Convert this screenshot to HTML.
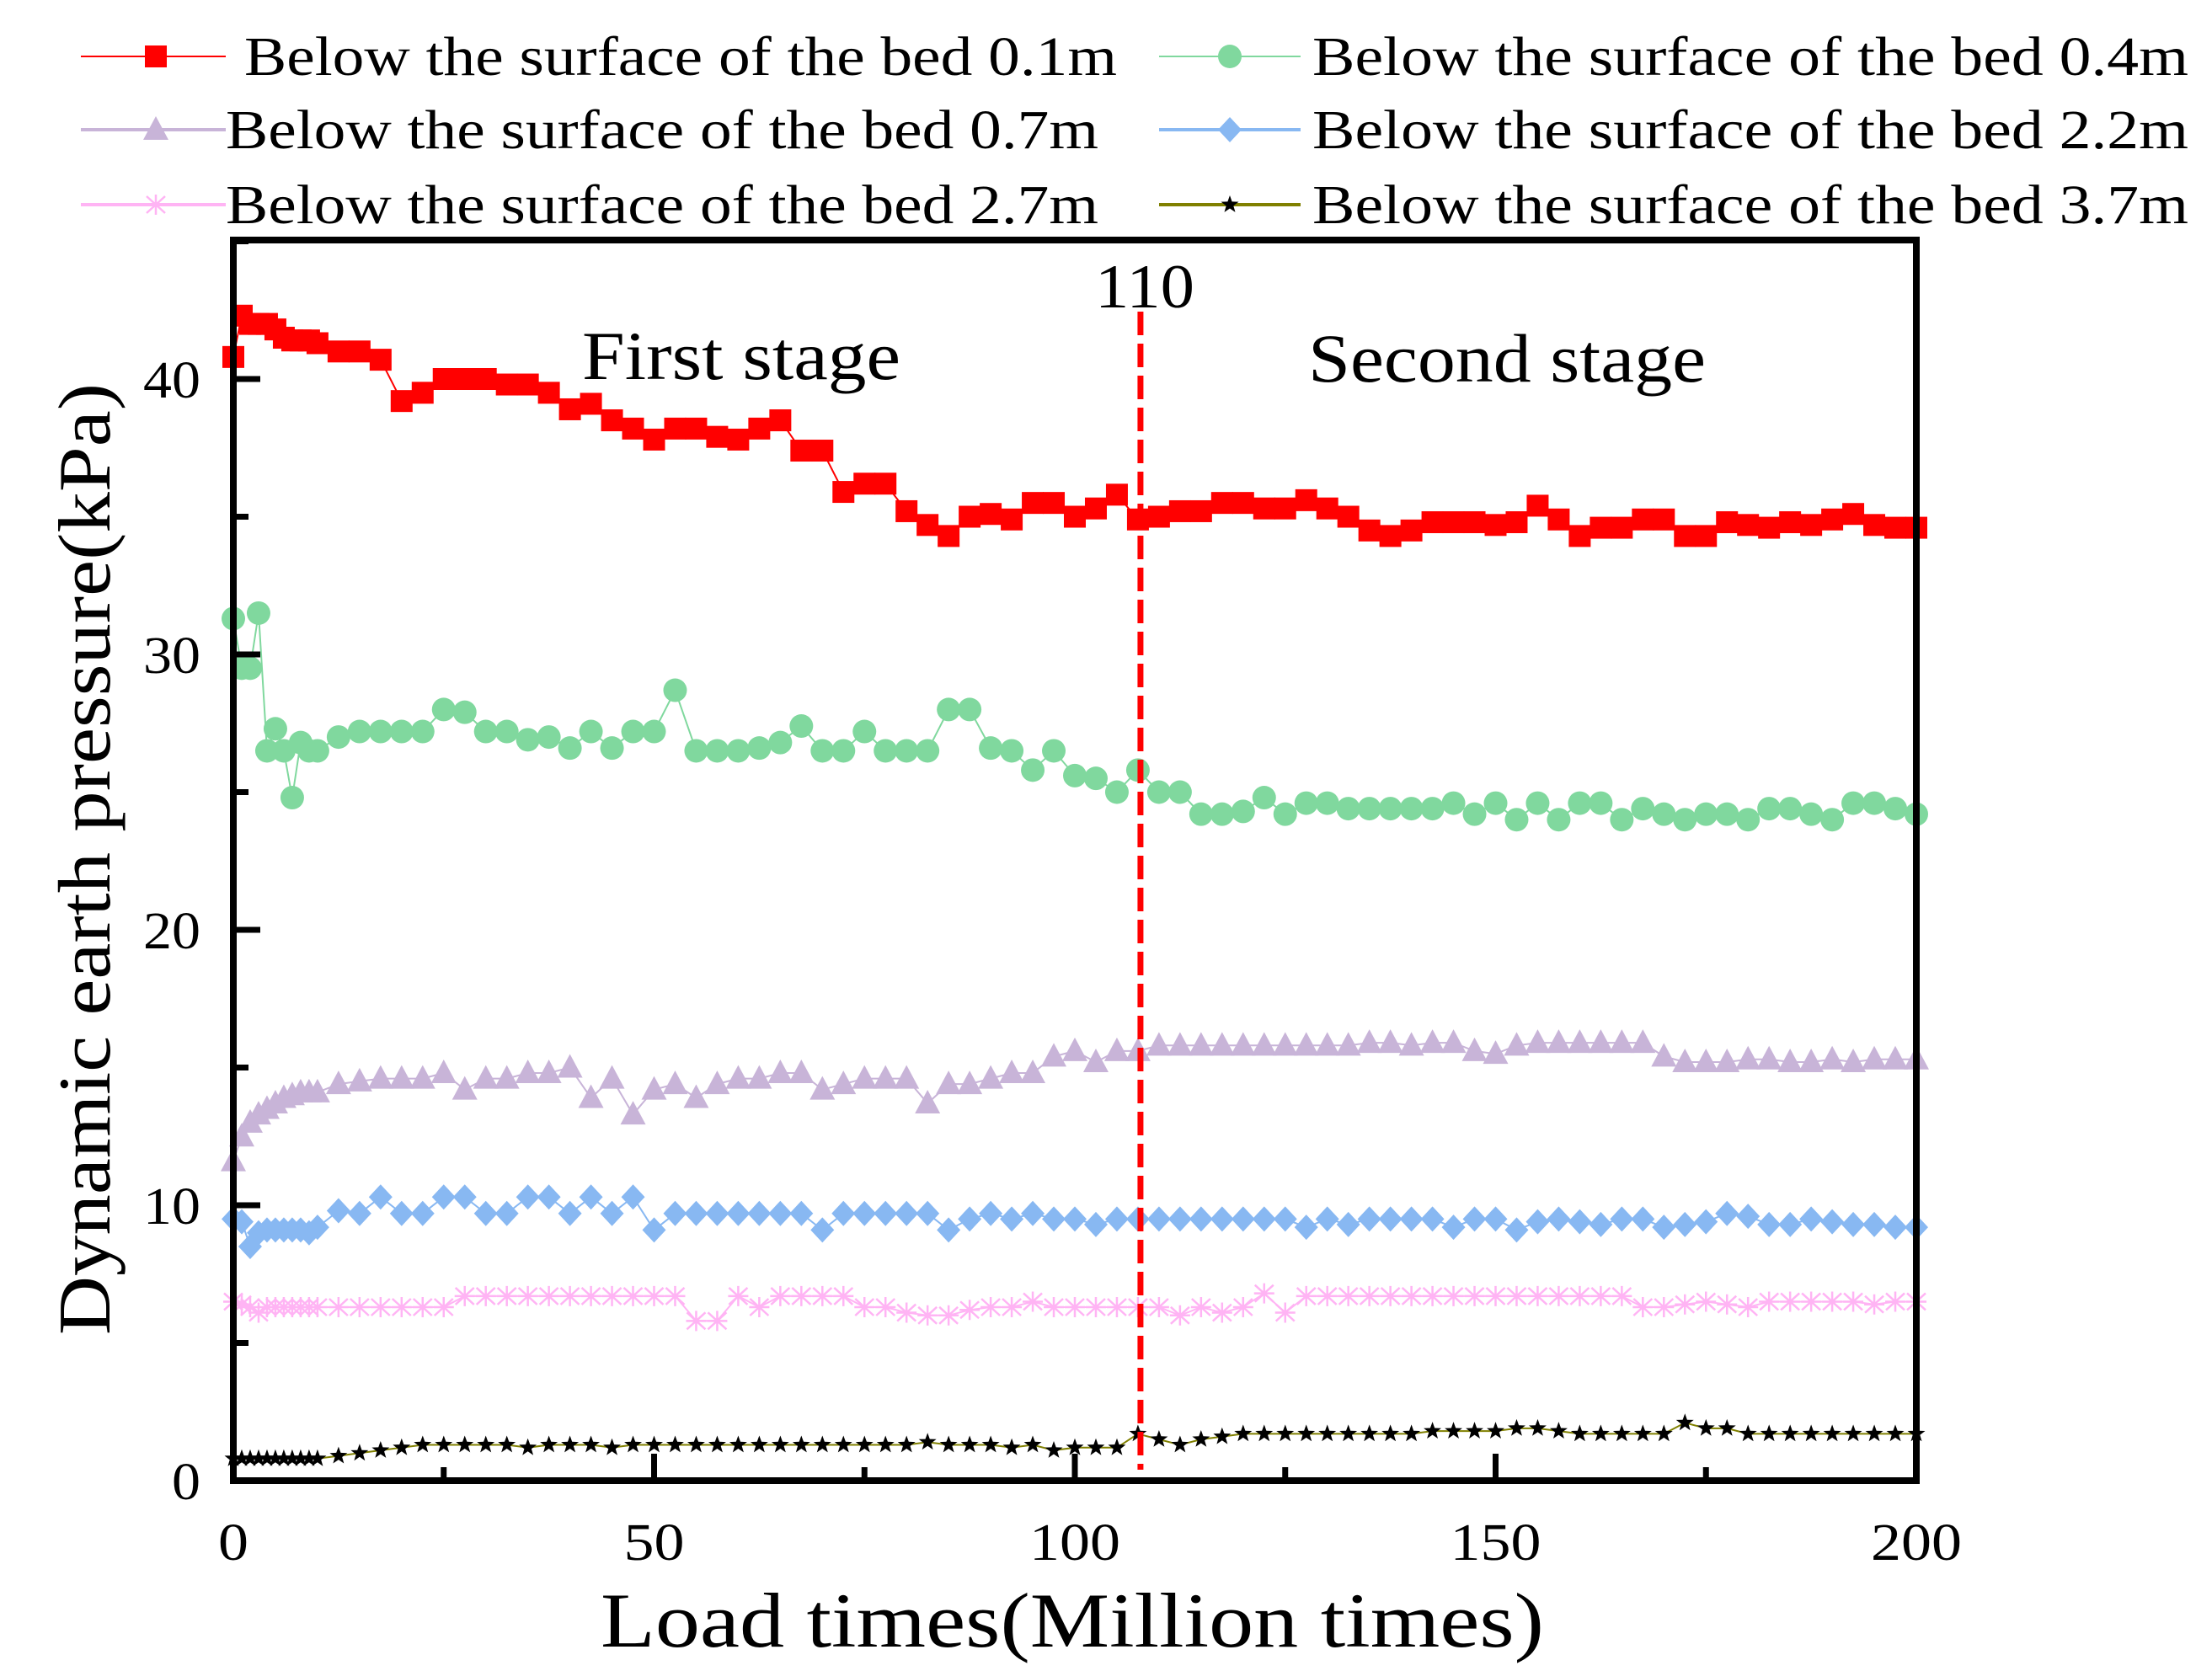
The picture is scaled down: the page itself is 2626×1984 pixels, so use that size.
<!DOCTYPE html>
<html><head><meta charset="utf-8"><style>
html,body{margin:0;padding:0;background:#fff}
svg{display:block}
text{font-family:"Liberation Serif",serif;fill:#000}
</style></head><body>
<svg id="chart" width="2626" height="1984" viewBox="0 0 2626 1984" xmlns="http://www.w3.org/2000/svg">
<g id="legend"></g>
<g id="series"></g>
<g id="axes"></g>
<text transform="translate(130,1020) rotate(-90)" text-anchor="middle" font-size="88" textLength="1130" lengthAdjust="spacingAndGlyphs">Dynamic earth pressure(kPa)</text>
<text x="713" y="1955" font-size="92" textLength="1120" lengthAdjust="spacingAndGlyphs">Load times(Million times)</text>
<text x="691" y="450" font-size="82" textLength="378" lengthAdjust="spacingAndGlyphs">First stage</text>
<text x="1553" y="453" font-size="82" textLength="472" lengthAdjust="spacingAndGlyphs">Second stage</text>
<text x="1359" y="365" text-anchor="middle" font-size="74" textLength="118" lengthAdjust="spacingAndGlyphs">110</text>
</svg>
<script>
const xs=[0,1,2,3,4,5,6,7,8,9,10,12.5,15,17.5,20,22.5,25,27.5,30,32.5,35,37.5,40,42.5,45,47.5,50,52.5,55,57.5,60,62.5,65,67.5,70,72.5,75,77.5,80,82.5,85,87.5,90,92.5,95,97.5,100,102.5,105,107.5,110,112.5,115,117.5,120,122.5,125,127.5,130,132.5,135,137.5,140,142.5,145,147.5,150,152.5,155,157.5,160,162.5,165,167.5,170,172.5,175,177.5,180,182.5,185,187.5,190,192.5,195,197.5,200];
const s01=[40.8,42.3,42,42,42,41.8,41.5,41.4,41.4,41.4,41.3,41,41,40.7,39.2,39.5,40,40,40,39.8,39.8,39.5,38.9,39.1,38.5,38.2,37.8,38.2,38.2,37.9,37.8,38.2,38.5,37.4,37.4,35.9,36.2,36.2,35.2,34.7,34.3,35,35.1,34.9,35.5,35.5,35,35.3,35.8,34.9,35,35.2,35.2,35.5,35.5,35.3,35.3,35.6,35.3,35,34.5,34.3,34.5,34.8,34.8,34.8,34.7,34.8,35.4,34.9,34.3,34.6,34.6,34.9,34.9,34.3,34.3,34.8,34.7,34.6,34.8,34.7,34.9,35.1,34.7,34.6,34.6];
const s04=[31.3,29.5,29.5,31.5,26.5,27.3,26.5,24.8,26.8,26.5,26.5,27,27.2,27.2,27.2,27.2,28,27.9,27.2,27.2,26.9,27,26.6,27.2,26.6,27.2,27.2,28.7,26.5,26.5,26.5,26.6,26.8,27.4,26.5,26.5,27.2,26.5,26.5,26.5,28,28,26.6,26.5,25.8,26.5,25.6,25.5,25,25.8,25,25,24.2,24.2,24.3,24.8,24.2,24.6,24.6,24.4,24.4,24.4,24.4,24.4,24.6,24.2,24.6,24,24.6,24,24.6,24.6,24,24.4,24.2,24,24.2,24.2,24,24.4,24.4,24.2,24,24.6,24.6,24.4,24.2];
const s07=[11.6,12.5,13,13.3,13.5,13.7,13.9,14,14.1,14.1,14.1,14.4,14.5,14.6,14.6,14.6,14.8,14.2,14.6,14.6,14.8,14.8,15,13.9,14.6,13.3,14.2,14.4,13.9,14.4,14.6,14.6,14.8,14.8,14.2,14.4,14.6,14.6,14.6,13.7,14.4,14.4,14.6,14.8,14.8,15.4,15.6,15.2,15.6,15.6,15.8,15.8,15.8,15.8,15.8,15.8,15.8,15.8,15.8,15.8,15.9,15.9,15.8,15.9,15.9,15.6,15.5,15.8,15.9,15.9,15.9,15.9,15.9,15.9,15.4,15.2,15.2,15.2,15.3,15.3,15.2,15.2,15.3,15.2,15.3,15.3,15.3];
const s22=[9.5,9.4,8.5,9,9.1,9.1,9.1,9.1,9.1,9,9.2,9.8,9.7,10.3,9.7,9.7,10.3,10.3,9.7,9.7,10.3,10.3,9.7,10.3,9.7,10.3,9.1,9.7,9.7,9.7,9.7,9.7,9.7,9.7,9.1,9.7,9.7,9.7,9.7,9.7,9.1,9.5,9.7,9.5,9.7,9.5,9.5,9.3,9.5,9.5,9.5,9.5,9.5,9.5,9.5,9.5,9.5,9.2,9.5,9.3,9.5,9.5,9.5,9.5,9.2,9.5,9.5,9.1,9.4,9.5,9.4,9.3,9.5,9.5,9.2,9.3,9.4,9.7,9.6,9.3,9.3,9.5,9.4,9.3,9.3,9.2,9.2];
const s27=[6.5,6.4,6.3,6.1,6.3,6.3,6.3,6.3,6.3,6.3,6.3,6.3,6.3,6.3,6.3,6.3,6.3,6.7,6.7,6.7,6.7,6.7,6.7,6.7,6.7,6.7,6.7,6.7,5.8,5.8,6.7,6.3,6.7,6.7,6.7,6.7,6.3,6.3,6.1,6,6,6.2,6.3,6.3,6.5,6.3,6.3,6.3,6.3,6.3,6.3,6,6.3,6.1,6.3,6.8,6.1,6.7,6.7,6.7,6.7,6.7,6.7,6.7,6.7,6.7,6.7,6.7,6.7,6.7,6.7,6.7,6.7,6.3,6.3,6.4,6.5,6.4,6.3,6.5,6.5,6.5,6.5,6.5,6.4,6.5,6.5];
const s37=[0.8,0.8,0.8,0.8,0.8,0.8,0.8,0.8,0.8,0.8,0.8,0.9,1,1.1,1.2,1.3,1.3,1.3,1.3,1.3,1.2,1.3,1.3,1.3,1.2,1.3,1.3,1.3,1.3,1.3,1.3,1.3,1.3,1.3,1.3,1.3,1.3,1.3,1.3,1.4,1.3,1.3,1.3,1.2,1.3,1.1,1.2,1.2,1.2,1.7,1.5,1.3,1.5,1.6,1.7,1.7,1.7,1.7,1.7,1.7,1.7,1.7,1.7,1.8,1.8,1.8,1.8,1.9,1.9,1.8,1.7,1.7,1.7,1.7,1.7,2.1,1.9,1.9,1.7,1.7,1.7,1.7,1.7,1.7,1.7,1.7,1.7];
const splitX=[107.8];
const xTicks=[0,50,100,150,200];
const yTicks=[0,10,20,30,40];
const legendLabels=["Below the surface of the bed 0.1m","Below the surface of the bed 0.4m","Below the surface of the bed 0.7m","Below the surface of the bed 2.2m","Below the surface of the bed 2.7m","Below the surface of the bed 3.7m"];

const NS="http://www.w3.org/2000/svg";
const L=277,R=2275,T=285,B=1758;
const X=v=>L+v/200*(R-L);
const Y=v=>B-v*32.7;
function mk(tag,attrs,parent){const e=document.createElementNS(NS,tag);for(const k in attrs)e.setAttribute(k,attrs[k]);parent.appendChild(e);return e;}

function marker(type,cx,cy,color,parent){
  let e;
  if(type==='square'){e=mk('rect',{x:cx-13,y:cy-13,width:26,height:26,fill:color},parent);}
  else if(type==='circle'){e=mk('ellipse',{cx:cx,cy:cy,rx:14,ry:14,fill:color},parent);}
  else if(type==='triangle'){e=mk('polygon',{points:`${cx},${cy-16} ${cx+15},${cy+12} ${cx-15},${cy+12}`,fill:color},parent);}
  else if(type==='diamond'){e=mk('polygon',{points:`${cx},${cy-15} ${cx+14},${cy} ${cx},${cy+15} ${cx-14},${cy}`,fill:color},parent);}
  else if(type==='asterisk'){e=mk('path',{d:`M${cx-11},${cy-10}L${cx+11},${cy+10}M${cx+11},${cy-10}L${cx-11},${cy+10}M${cx},${cy-12}L${cx},${cy+12}M${cx-12},${cy}L${cx+12},${cy}`,stroke:color,'stroke-width':2.5,fill:'none'},parent);}
  else if(type==='star'){let p=[];for(let i=0;i<10;i++){const r=i%2?4.5:11,a=-Math.PI/2+i*Math.PI/5;p.push((cx+r*Math.cos(a)).toFixed(1)+','+(cy+r*Math.sin(a)).toFixed(1));}e=mk('polygon',{points:p.join(' '),fill:color},parent);}
  return e;
}

const seriesDefs=[
 {vals:s01,type:'square',mc:'#ff0000',lc:'#ff0000',lw:2,name:'series-0-1m'},
 {vals:s04,type:'circle',mc:'#80d89e',lc:'#80d89e',lw:2,name:'series-0-4m'},
 {vals:s07,type:'triangle',mc:'#c8b4d8',lc:'#c8b4d8',lw:2,name:'series-0-7m'},
 {vals:s22,type:'diamond',mc:'#88b8f2',lc:'#88b8f2',lw:2,name:'series-2-2m'},
 {vals:s27,type:'asterisk',mc:'#ffb4f4',lc:'#ffb4f4',lw:2,name:'series-2-7m'},
 {vals:s37,type:'star',mc:'#000000',lc:'#808000',lw:2,name:'series-3-7m'}
];

const sg=document.getElementById('series');
seriesDefs.forEach((s,si)=>{
  const g=mk('g',{},sg);
  
  
  const pts=xs.map((x,i)=>X(x).toFixed(1)+','+Y(s.vals[i]).toFixed(1)).join(' ');
  const pl=mk('polyline',{points:pts,fill:'none',stroke:s.lc,'stroke-width':s.lw},g);
  
  
  xs.forEach((x,i)=>{
    const m=marker(s.type,X(x),Y(s.vals[i]),s.mc,g);
    
    
  });
});

const dl=mk('line',{x1:X(splitX[0]),x2:X(splitX[0]),y1:370,y2:1745,stroke:'#ff0000','stroke-width':7,'stroke-dasharray':'28 10'},sg);



const ag=document.getElementById('axes');
const fr=mk('rect',{x:L,y:T,width:R-L,height:B-T,fill:'none',stroke:'#000','stroke-width':8},ag);


yTicks.forEach(v=>{
  const t=mk('line',{x1:L,x2:L+32,y1:Y(v),y2:Y(v),stroke:'#000','stroke-width':7},ag);
  
  
  const m=mk('line',{x1:L,x2:L+18,y1:Y(v+5),y2:Y(v+5),stroke:'#000','stroke-width':7},ag);
  
  
  const lbl=String(v);
  const tx=mk('text',{x:238,y:Y(v)+22,'text-anchor':'end','font-size':62,textLength:lbl.length*34,lengthAdjust:'spacingAndGlyphs'},ag);
  tx.textContent=lbl;
  
  
});
xTicks.forEach((v,i)=>{
  const t=mk('line',{x1:X(v),x2:X(v),y1:B,y2:B-32,stroke:'#000','stroke-width':7},ag);
  
  
  if(i<xTicks.length-1){
    const m=mk('line',{x1:X(v+25),x2:X(v+25),y1:B,y2:B-16,stroke:'#000','stroke-width':7},ag);
    
    
  }
  const lbl=String(v);
  const tx=mk('text',{x:X(v),y:1852,'text-anchor':'middle','font-size':62,textLength:lbl.length*36,lengthAdjust:'spacingAndGlyphs'},ag);
  tx.textContent=lbl;
  
  
});

const lg=document.getElementById('legend');
const rowsY=[67,154,243];
seriesDefs.forEach((s,i)=>{
  const col=i%2,row=Math.floor(i/2);
  const y=rowsY[row];
  const x0=col?1376:96,x1=col?1544:268,mx=col?1460:185;
  const tx0=col?1558:(row===0?290:268), tx1=col?2598:(row===0?1326:1304);
  const g=mk('g',{},lg);
  
  
  mk('line',{x1:x0,x2:x1,y1:y,y2:y,stroke:s.lc,'stroke-width':row===0?2:4},g);
  marker(s.type,mx,y,s.mc,g);
  const t=mk('text',{x:tx0,y:y+22,'font-size':66,textLength:tx1-tx0,lengthAdjust:'spacingAndGlyphs'},g);
  t.textContent=legendLabels[i];
});
</script>
</body></html>
